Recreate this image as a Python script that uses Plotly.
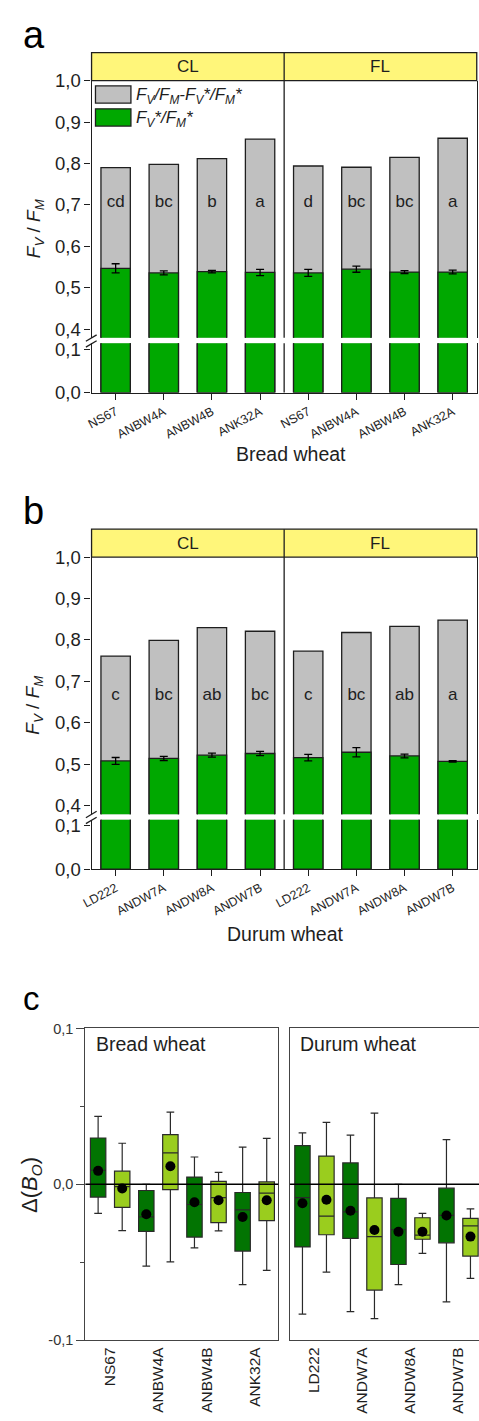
import plotly.graph_objects as go

W, H = 479, 1421
FONT = "Liberation Sans, Arial, sans-serif"
INK = "#1e1e1e"

# ---------------- data ----------------
light_levels = ["CL", "FL"]

bread_lines = ["NS67", "ANBW4A", "ANBW4B", "ANK32A"]
bread_fvfm = [0.790, 0.798, 0.812, 0.859, 0.794, 0.791, 0.815, 0.861]
bread_fvfm_star = [0.547, 0.536, 0.539, 0.537, 0.536, 0.545, 0.538, 0.538]
bread_fvfm_star_err = [0.011, 0.005, 0.003, 0.0075, 0.0085, 0.0075, 0.0035, 0.0045]
bread_letters = ["cd", "bc", "b", "a", "d", "bc", "bc", "a"]

durum_lines = ["LD222", "ANDW7A", "ANDW8A", "ANDW7B"]
durum_fvfm = [0.761, 0.799, 0.830, 0.821, 0.773, 0.818, 0.833, 0.848]
durum_fvfm_star = [0.508, 0.514, 0.522, 0.526, 0.516, 0.529, 0.520, 0.507]
durum_fvfm_star_err = [0.0083, 0.005, 0.005, 0.005, 0.008, 0.011, 0.0045, 0.0016]
durum_letters = ["c", "bc", "ab", "bc", "c", "bc", "ab", "a"]

fv_ticks_upper = [0.4, 0.5, 0.6, 0.7, 0.8, 0.9, 1.0]
fv_ticks_lower = [0.0, 0.1]

# Delta(B_O) box statistics, CL (dark) and FL (light)
bread_cl_whislo = [-0.0187, -0.0526, -0.0408, -0.0644]
bread_cl_q1 = [-0.0082, -0.0303, -0.0339, -0.0429]
bread_cl_med = [0.0090, -0.0210, -0.0130, -0.0164]
bread_cl_q3 = [0.0297, -0.0040, 0.0046, -0.0053]
bread_cl_whishi = [0.0435, 0.0000, 0.0175, 0.0238]
bread_cl_mean = [0.0086, -0.0193, -0.0116, -0.0210]

bread_fl_whislo = [-0.0297, -0.0498, -0.0299, -0.0553]
bread_fl_q1 = [-0.0149, -0.0034, -0.0246, -0.0233]
bread_fl_med = [-0.0015, 0.0202, -0.0086, -0.0057]
bread_fl_q3 = [0.0084, 0.0318, 0.0019, 0.0015]
bread_fl_whishi = [0.0263, 0.0463, 0.0076, 0.0294]
bread_fl_mean = [-0.0027, 0.0116, -0.0103, -0.0103]

durum_cl_whislo = [-0.0833, -0.0817, -0.0644, -0.0755]
durum_cl_q1 = [-0.0402, -0.0347, -0.0515, -0.0376]
durum_cl_med = [-0.0086, -0.0177, -0.0292, -0.0200]
durum_cl_q3 = [0.0248, 0.0137, -0.0090, -0.0025]
durum_cl_whishi = [0.0330, 0.0315, 0.0000, 0.0286]
durum_cl_mean = [-0.0122, -0.0170, -0.0305, -0.0200]

durum_fl_whislo = [-0.0564, -0.0863, -0.0444, -0.0604]
durum_fl_q1 = [-0.0324, -0.0679, -0.0353, -0.0461]
durum_fl_med = [-0.0204, -0.0336, -0.0326, -0.0267]
durum_fl_q3 = [0.0181, -0.0088, -0.0215, -0.0219]
durum_fl_whishi = [0.0397, 0.0456, -0.0187, -0.0158]
durum_fl_mean = [-0.0099, -0.0294, -0.0305, -0.0336]

delta_ticks = [-0.1, 0.0, 0.1]
delta_tick_labels = ["-0,1", "0,0", "0,1"]

# ---------------- styling ----------------
GRAY = "#c0c0c0"
GREEN = "#00a800"
YELLOW = "#fff67a"
DARK_GREEN = "#027402"
LIGHT_GREEN = "#9acd1e"


def fx(x):
    return x / W


def fy(y):
    return 1 - y / H


def note(text, x, y, size, xanchor="center", yanchor="middle", **kw):
    """Paper-positioned text given in pixel coordinates."""
    d = dict(text=text, xref="paper", yref="paper", x=fx(x), y=fy(y), xanchor=xanchor, yanchor=yanchor,
             showarrow=False, font=dict(size=size, family=FONT, color=kw.pop("color", INK)))
    d.update(kw)
    return d


fig = go.Figure()
layout = dict(
    width=W, height=H, margin=dict(l=0, r=0, t=0, b=0),
    paper_bgcolor="white", plot_bgcolor="white",
    barmode="overlay", showlegend=False, separators=",.",
    font=dict(family=FONT, color=INK),
)
shapes, annotations = [], []

axis_common = dict(showgrid=False, zeroline=False, linecolor=INK, linewidth=1.3,
                   tickcolor=INK, tickwidth=1.3, tickfont=dict(size=18.5, family=FONT, color=INK))


def bar_panel(n, off, lines, total, star, err, letters, letter_y, xtitle, xtitle_pos):
    """Stacked F_V/F_M bars with a broken y axis; n = index of first axis pair."""
    xb, xt = f"x{'' if n == 1 else n}", f"x{n + 1}"
    yu, yl = f"y{'' if n == 1 else n}", f"y{n + 1}"
    L, R = 83.3, 476.7
    up_top, up_bot = 70.7 + off, 331.7 + off
    lo_top, lo_bot = 337.3 + off, 387.3 + off
    positions = list(range(1, 2 * len(lines) + 1))
    labels = lines + lines

    for xa, ya, with_err in ((xt, yu, True), (xb, yl, False)):
        fig.add_trace(go.Bar(x=positions, y=total, width=0.61, marker=dict(color=GRAY, line=dict(color=INK, width=1.3)),
                             xaxis=xa, yaxis=ya, hoverinfo="skip"))
        fig.add_trace(go.Bar(x=positions, y=star, width=0.61, marker=dict(color=GREEN, line=dict(color=INK, width=1.3)),
                             error_y=dict(type="data", array=err, visible=with_err, color="black", thickness=1.3, width=4),
                             xaxis=xa, yaxis=ya, hoverinfo="skip"))
    fig.add_trace(go.Scatter(x=positions, y=[letter_y] * len(positions), text=letters, mode="text",
                             textfont=dict(size=17, family=FONT, color=INK), xaxis=xt, yaxis=yu, hoverinfo="skip"))

    xbk = "xaxis" if n == 1 else f"xaxis{n}"
    layout[xbk] = dict(axis_common, domain=[fx(L), fx(R)], range=[0.5, 8.5], anchor=yl,
                       tickvals=positions, ticktext=labels, tickangle=-28, ticks="outside", ticklen=6,
                       tickfont=dict(size=12.5, family=FONT, color=INK), showline=True)
    layout[f"xaxis{n + 1}"] = dict(domain=[fx(L), fx(R)], range=[0.5, 8.5], anchor=yu, matches=xb,
                                   showticklabels=False, ticks="", showline=False, showgrid=False, zeroline=False)
    yuk = "yaxis" if n == 1 else f"yaxis{n}"
    layout[yuk] = dict(axis_common, domain=[fy(up_bot), fy(up_top)], range=[0.3793, 1.0], anchor=xt,
                       tickvals=fv_ticks_upper, tickformat=".1f", ticks="outside", ticklen=6,
                       showline=True, mirror=True)
    layout[f"yaxis{n + 1}"] = dict(axis_common, domain=[fy(lo_bot), fy(lo_top)], range=[0, 0.1136], anchor=xb,
                                   tickvals=fv_ticks_lower, tickformat=".1f", ticks="outside", ticklen=6,
                                   showline=True, mirror=True)

    # header strip with light treatments
    h_top = 42.3 + off
    shapes.append(dict(type="rect", xref="paper", yref="paper", x0=fx(L), x1=fx(R), y0=fy(up_top), y1=fy(h_top),
                       fillcolor=YELLOW, line=dict(color=INK, width=1.3), layer="above"))
    for i, lvl in enumerate(light_levels):
        annotations.append(dict(text=lvl, xref=xt, yref="paper", x=2.5 + 4 * i, y=fy((h_top + up_top) / 2),
                                xanchor="center", yanchor="middle",
                                showarrow=False, font=dict(size=17, family=FONT, color=INK)))
    # divider between CL and FL, interrupted by the axis break
    for y0, y1 in ((h_top, up_bot), (lo_top, lo_bot)):
        shapes.append(dict(type="line", xref=xt, yref="paper", x0=4.5, x1=4.5, y0=fy(y1), y1=fy(y0),
                           line=dict(color=INK, width=1.3), layer="above"))
    # break marks on the left axis
    for yb in (335.2 + off, 341.2 + off):
        shapes.append(dict(type="line", xref="paper", yref="paper", x0=fx(77.5), x1=fx(88.5),
                           y0=fy(yb), y1=fy(yb - 6.5), line=dict(color=INK, width=1.3)))

    annotations.append(note("<i>F</i><sub><i>V</i></sub> / <i>F</i><sub><i>M</i></sub>", 25, 220 + off, 19,
                            textangle=-90))
    annotations.append(note(xtitle, xtitle_pos[0], xtitle_pos[1] + off, 19.5))


bar_panel(1, 0.0, bread_lines, bread_fvfm, bread_fvfm_star, bread_fvfm_star_err, bread_letters, 0.705,
          "Bread wheat", (287, 450))
bar_panel(3, 483.6, durum_lines, durum_fvfm, durum_fvfm_star, durum_fvfm_star_err, durum_letters, 0.665,
          "Durum wheat", (281, 453))

# legend of panel a
legend_rows = [
    (GRAY, "<i>F</i><sub><i>V</i></sub><i>/F</i><sub><i>M</i></sub><i>-F</i><sub><i>V</i></sub><i>*/F</i><sub><i>M</i></sub><i>*</i>", 76.0),
    (GREEN, "<i>F</i><sub><i>V</i></sub><i>*/F</i><sub><i>M</i></sub><i>*</i>", 99.3),
]
for color, label, top in legend_rows:
    shapes.append(dict(type="rect", xref="paper", yref="paper", x0=fx(87.3), x1=fx(123.5), y0=fy(top + 17.5), y1=fy(top),
                       fillcolor=color, line=dict(color=INK, width=1.3), layer="above"))
    annotations.append(note(label, 127, top + 10.5, 17, xanchor="left"))

# ---------------- panel c: Delta(B_O) box plots ----------------
C_TOP, C_BOT = 1032.7, 1349.0
box_line = dict(color="#2a2a2a", width=1.2)
c_panels = [
    (5, 77.0, 274.0, [0.4715, 8.48], bread_lines, "Bread wheat",
     (bread_cl_whislo, bread_cl_q1, bread_cl_med, bread_cl_q3, bread_cl_whishi, bread_cl_mean),
     (bread_fl_whislo, bread_fl_q1, bread_fl_med, bread_fl_q3, bread_fl_whishi, bread_fl_mean)),
    (6, 286.0, 479.0, [0.482, 8.356], durum_lines, "Durum wheat",
     (durum_cl_whislo, durum_cl_q1, durum_cl_med, durum_cl_q3, durum_cl_whishi, durum_cl_mean),
     (durum_fl_whislo, durum_fl_q1, durum_fl_med, durum_fl_q3, durum_fl_whishi, durum_fl_mean)),
]
for n, L, R, xr, lines, title, cl, fl in c_panels:
    xa, ya = f"x{n}", f"y{n}"
    for k, (stats, color) in enumerate(((cl, DARK_GREEN), (fl, LIGHT_GREEN))):
        lo, q1, med, q3, hi, mean = stats
        pos = [2 * i + 1 + k for i in range(len(lines))]
        fig.add_trace(go.Box(x=pos, q1=q1, median=med, q3=q3, lowerfence=lo, upperfence=hi, width=0.64,
                             fillcolor=color, line=box_line, whiskerwidth=0.5, boxpoints=False,
                             xaxis=xa, yaxis=ya, hoverinfo="skip"))
        fig.add_trace(go.Scatter(x=pos, y=mean, mode="markers", marker=dict(color="black", size=10),
                                 xaxis=xa, yaxis=ya, hoverinfo="skip"))
    first = n == 5
    layout[f"xaxis{n}"] = dict(showgrid=False, zeroline=False, domain=[fx(L), fx(R)], range=xr, anchor=ya,
                               tickvals=[2 * i + 1.5 for i in range(len(lines))], ticktext=lines, tickangle=-90,
                               ticks="", tickfont=dict(size=15.5, family=FONT, color=INK),
                               showline=True, mirror=True, linecolor="#444", linewidth=1.3)
    yax = dict(showgrid=False, zeroline=False, domain=[fy(C_BOT), fy(C_TOP)], range=[-0.1, 0.1],
               anchor=xa, showline=True, mirror=first, linecolor="#444", linewidth=1.3)
    if first:
        yax.update(tickvals=delta_ticks, ticktext=delta_tick_labels, ticks="outside", ticklen=8,
                   tickcolor="#444", tickwidth=1.3, tickfont=dict(size=14.5, family=FONT, color="#333"),
                   minor=dict(tickvals=[-0.05, 0.05], ticks="outside", ticklen=4, tickcolor="#444", tickwidth=1.3))
    else:
        yax.update(showticklabels=False, ticks="")
    layout[f"yaxis{n}"] = yax
    shapes.append(dict(type="line", xref=f"{xa} domain", yref=ya, x0=0, x1=1, y0=0, y1=0,
                       line=dict(color="black", width=1.3), layer="above"))
    annotations.append(note(title, L + 8.5, 1048, 19.5, xanchor="left"))

annotations.append(note("\u0394(<i>B</i><sub><i>O</i></sub>)", 22, 1192, 22, textangle=-90))

# panel letters
for letter, (x, y, size) in {"a": (11, 24, 38), "b": (11, 507, 38), "c": (11, 1002, 33)}.items():
    annotations.append(note(letter, x, y, size, xanchor="left", color="black"))

layout["shapes"] = shapes
layout["annotations"] = annotations
fig.update_layout(**layout)
fig.write_html("out.html")
